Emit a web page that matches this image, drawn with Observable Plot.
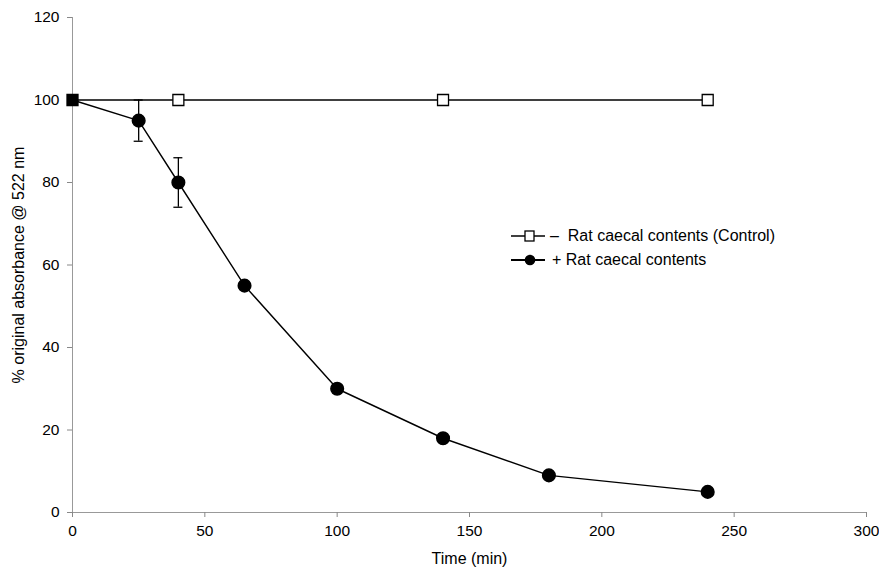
<!DOCTYPE html>
<html><head><meta charset="utf-8">
<script src="https://cdn.jsdelivr.net/npm/d3@7"></script>
<script src="https://cdn.jsdelivr.net/npm/@observablehq/plot@0.6"></script>
<style>
body{margin:0;background:#fff;font-family:"Liberation Sans",Arial,sans-serif;}
#wrap{position:relative;width:879px;height:572px;}
#legend{position:absolute;left:511px;top:224px;font-size:16px;color:#000;line-height:24px;}
#legend div{display:flex;align-items:center;white-space:nowrap;}
</style>
</head><body><div id="wrap"></div>
<script>
const controlTime = [0, 40, 140, 240];
const controlValue = [100, 100, 100, 100];
const ratTime = [0, 25, 40, 65, 100, 140, 180, 240];
const ratValue = [100, 95, 80, 55, 30, 18, 9, 5];
const errTime = [25, 40];
const errLow = [90, 74];
const errHigh = [100, 86];
const xTicks = [0, 50, 100, 150, 200, 250, 300];
const yTicks = [0, 20, 40, 60, 80, 100, 120];
const seriesNames = ["\u2013\u00a0\u00a0Rat caecal contents (Control)", "+ Rat caecal contents"];

const control = controlTime.map((t, i) => ({t, v: controlValue[i]}));
const rat = ratTime.map((t, i) => ({t, v: ratValue[i]}));
const err = errTime.map((t, i) => ({t, lo: errLow[i], hi: errHigh[i]}));
const cap = 1.7;

const chart = Plot.plot({
  width: 879, height: 572,
  marginLeft: 72, marginRight: 13, marginTop: 17, marginBottom: 60,
  style: {fontFamily: "Liberation Sans, Arial, sans-serif", fontSize: "15px", background: "#fff", color: "#000"},
  x: {domain: [0, 300]},
  y: {domain: [0, 120]},
  marks: [
    Plot.ruleX([0], {stroke: "#999", strokeWidth: 1}),
    Plot.ruleY([0], {stroke: "#999", strokeWidth: 1}),
    Plot.axisY(yTicks, {ticks: yTicks, tickSize: 5, tickFormat: () => "", stroke: "#888", label: null}),
    Plot.axisX(xTicks, {ticks: xTicks, tickSize: 5, tickFormat: () => "", stroke: "#888", label: null}),
    Plot.text(yTicks, {x: 0, y: d => d, text: d => String(d), textAnchor: "end", dx: -13, fontSize: 15.5, fill: "#000"}),
    Plot.text(xTicks, {x: d => d, y: 0, text: d => String(d), lineAnchor: "top", dy: 12, fontSize: 15.5, fill: "#000"}),
    Plot.text(["% original absorbance @ 522 nm"], {frameAnchor: "left", textAnchor: "middle", rotate: -90, dx: -54, fontSize: 16, fill: "#000"}),
    Plot.text(["Time (min)"], {frameAnchor: "bottom", dy: 51, fontSize: 16, fill: "#000"}),
    Plot.ruleX(err, {x: "t", y1: "lo", y2: "hi", stroke: "#000", strokeWidth: 1.3}),
    Plot.ruleY(err, {y: "lo", x1: d => d.t - cap, x2: d => d.t + cap, stroke: "#000", strokeWidth: 1.3}),
    Plot.ruleY(err, {y: "hi", x1: d => d.t - cap, x2: d => d.t + cap, stroke: "#000", strokeWidth: 1.3}),
    Plot.line(control, {x: "t", y: "v", stroke: "#000", strokeWidth: 1.4}),
    Plot.line(rat, {x: "t", y: "v", stroke: "#000", strokeWidth: 1.4}),
    Plot.dot(rat.filter(d => d.t > 0), {x: "t", y: "v", r: 6.3, fill: "#000", stroke: "#000"}),
    Plot.dot(control, {x: "t", y: "v", symbol: "square", r: 6.2, fill: d => d.t === 0 ? "#000" : "#fff", stroke: "#000", strokeWidth: 1.3})
  ]
});
const wrap = document.getElementById("wrap");
wrap.appendChild(chart);

const legend = document.createElement("div");
legend.id = "legend";
const sym = [
  '<svg width="36" height="16"><line x1="0" y1="8" x2="34" y2="8" stroke="#000" stroke-width="1.4"/><rect x="14" y="3" width="9" height="10" fill="#fff" stroke="#000" stroke-width="1.3"/></svg>',
  '<svg width="36" height="16"><line x1="0" y1="8" x2="34" y2="8" stroke="#000" stroke-width="2"/><circle cx="19" cy="8" r="5.3" fill="#000"/></svg>'
];
const gaps = [3, 5];
seriesNames.forEach((n, i) => {
  const row = document.createElement("div");
  row.innerHTML = sym[i] + '<span style="margin-left:' + gaps[i] + 'px">' + n + '</span>';
  legend.appendChild(row);
});
wrap.appendChild(legend);
</script></body></html>
